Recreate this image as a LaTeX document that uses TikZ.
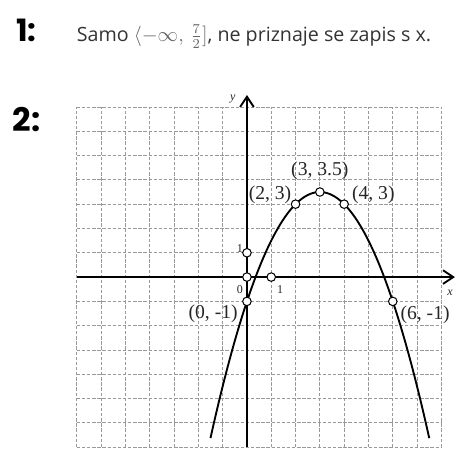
\documentclass[tikz,border=0pt]{standalone}
\usepackage{fontspec}
\setmainfont{Liberation Serif}
\newfontfamily\uifont{Open Sans}
\newfontfamily\rukfont{Poppins}
\usetikzlibrary{arrows.meta}

\begin{document}
\begin{tikzpicture}[x=0.5cm, y=0.5cm,
    mreza/.style={black!40, line width=0.5pt, dash pattern=on 2pt off 1pt},
    os/.style={line width=1.1pt, -{Straight Barb[length=6pt, width=8pt, line width=1.1pt]}},
    tocka/.style={circle, draw=black, fill=white, line width=0.6pt, inner sep=0pt, minimum size=5pt},
    oznaka/.style={font=\fontsize{11.5}{12}\selectfont, text=black!85, inner sep=0pt},
    mala/.style={font=\fontsize{7}{8}\selectfont, text=black!85, inner sep=0pt}]

    \useasboundingbox (-10.16,-7.70) rectangle (9.26,11.40);

    % Zadatak 1
    \node[anchor=base west, inner sep=0pt, font=\rukfont\bfseries\fontsize{18}{20}\selectfont] (br1) at (-9.5,9.68) {1:};
    \node[anchor=base west, font=\uifont\fontsize{11.5}{13}\selectfont, text=black!80, inner sep=0pt] (odg1) at (-7.01,9.68)
        {Samo {\color{black!60}$\langle -\infty,\, \frac{7}{2}]$}, ne priznaje se zapis s x.};

    % Zadatak 2
    \node[anchor=base west, inner sep=0pt, font=\rukfont\bfseries\fontsize{19}{20}\selectfont] (br2) at (-9.65,5.98) {2:};

    % Mreza
    \draw[mreza, step=0.5cm] (-7,-7) grid (8,7);

    % Osi
    \draw[os] (-7,0) -- (8.56,0);
    \draw[os] (0,-7) -- (0,7.49);
    \node[mala, font=\itshape\fontsize{7}{8}\selectfont] (xosi) at (8.36,-0.66) {x};
    \node[mala, font=\itshape\fontsize{7}{8}\selectfont] (yosi) at (-0.58,7.33) {y};

    % Parabola
    \draw[line width=1.1pt, domain=-1.5:7.5, samples=80, smooth] plot (\x, {-0.5*(\x-3)^2+3.5});

    % Tocke
    \foreach \ime/\tx/\ty in {t01/0/1, t00/0/0, t10/1/0, tA/0/-1, tB/2/3, tT/3/3.5, tC/4/3, tD/6/-1}
        \node[tocka] (\ime) at (\tx,\ty) {};

    % Oznake
    \node[mala] (l1y) at (-0.29,1.18) {1};
    \node[mala] (l0) at (-0.29,-0.51) {0};
    \node[mala] (l1x) at (1.36,-0.53) {1};
    \node[oznaka] (lA) at (-1.39,-1.49) {(0, -1)};
    \node[oznaka] (lB) at (0.95,3.37) {(2, 3)};
    \node[oznaka] (lT) at (3,4.36) {(3, 3.5)};
    \node[oznaka] (lC) at (5.2,3.37) {(4, 3)};
    \node[oznaka] (lD) at (7.33,-1.56) {(6, -1)};

\end{tikzpicture}
\end{document}
